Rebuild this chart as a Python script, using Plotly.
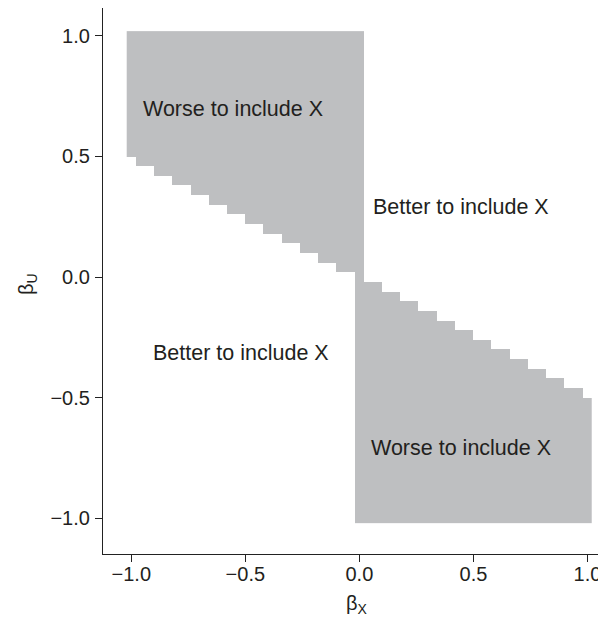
import plotly.graph_objects as go

# grid of beta_X and beta_U values (cell centres)
beta_grid = [-1.00, -0.96, -0.92, -0.88, -0.84, -0.80, -0.76, -0.72, -0.68, -0.64,
             -0.60, -0.56, -0.52, -0.48, -0.44, -0.40, -0.36, -0.32, -0.28, -0.24,
             -0.20, -0.16, -0.12, -0.08, -0.04, 0.00, 0.04, 0.08, 0.12, 0.16,
             0.20, 0.24, 0.28, 0.32, 0.36, 0.40, 0.44, 0.48, 0.52, 0.56,
             0.60, 0.64, 0.68, 0.72, 0.76, 0.80, 0.84, 0.88, 0.92, 0.96, 1.00]

# beta_X <= 0 columns: lowest beta_U where it is worse to include X
worse_upper_min = [0.52, 0.48, 0.48, 0.44, 0.44, 0.40, 0.40, 0.36, 0.36, 0.32,
                   0.32, 0.28, 0.28, 0.24, 0.24, 0.20, 0.20, 0.16, 0.16, 0.12,
                   0.12, 0.08, 0.08, 0.04, 0.04, 0.00]
# beta_X >= 0 columns: highest beta_U where it is worse to include X
worse_lower_max = [0.00, -0.04, -0.04, -0.08, -0.08, -0.12, -0.12, -0.16, -0.16, -0.20,
                   -0.20, -0.24, -0.24, -0.28, -0.28, -0.32, -0.32, -0.36, -0.36, -0.40,
                   -0.40, -0.44, -0.44, -0.48, -0.48, -0.52]

labels = ["Worse to include X", "Better to include X", "Better to include X", "Worse to include X"]
label_x = [-0.555, 0.445, -0.52, 0.445]
label_y = [0.695, 0.29, -0.315, -0.71]

tick_vals = [-1.0, -0.5, 0.0, 0.5, 1.0]
tick_text = ["\u22121.0", "\u22120.5", "0.0", "0.5", "1.0"]

n = len(beta_grid)
z = [[None] * n for _ in range(n)]
for j, bx in enumerate(beta_grid):
    for i, bu in enumerate(beta_grid):
        worse = False
        if bx <= 0 and bu >= worse_upper_min[j] - 1e-9:
            worse = True
        if bx >= 0 and bu <= worse_lower_max[j - 25] + 1e-9:
            worse = True
        if worse:
            z[i][j] = 1

GRAY = "rgb(190,191,193)"
TXT = "#231f20"
FONT = "Liberation Sans, Arial, sans-serif"

fig = go.Figure()
fig.add_trace(go.Heatmap(
    x=beta_grid, y=beta_grid, z=z,
    colorscale=[[0, GRAY], [1, GRAY]], zmin=0, zmax=1,
    showscale=False, hoverinfo="skip", zsmooth=False,
))

for t, xx, yy in zip(labels, label_x, label_y):
    fig.add_annotation(x=xx, y=yy, text=t, showarrow=False,
                       font=dict(size=21.5, color=TXT, family=FONT),
                       xanchor="center", yanchor="middle")

# axis titles
fig.add_annotation(xref="paper", yref="paper", x=0.5, y=0, yanchor="top", xanchor="center",
                   yshift=-36, xshift=2, text="\u03b2<sub>X</sub>", showarrow=False,
                   font=dict(size=20, color=TXT, family=FONT))
fig.add_annotation(xref="paper", yref="paper", x=0, y=0.5, xanchor="center", yanchor="middle",
                   xshift=-76, yshift=-3, textangle=-90, text="\u03b2<sub>U</sub>", showarrow=False,
                   font=dict(size=20, color=TXT, family=FONT))

axis_common = dict(
    showline=True, linecolor="#222", linewidth=1.2,
    ticks="outside", ticklen=7, tickwidth=1.2, tickcolor="#222",
    showgrid=False, zeroline=False, automargin=False,
    tickvals=tick_vals, ticktext=tick_text,
    tickfont=dict(size=20, color=TXT, family=FONT),
)

# page body adds an 8px margin; size the figure so the whole page is 606x619
fig.update_layout(
    width=598, height=611,
    margin=dict(l=95, r=0, t=0, b=65),
    paper_bgcolor="white", plot_bgcolor="white",
    showlegend=False,
    xaxis=dict(range=[-1.124, 1.081], ticklabelstandoff=-5, **axis_common),
    yaxis=dict(range=[-1.149, 1.116], ticklabelstandoff=1, **axis_common),
)

fig.write_html("out.html")
